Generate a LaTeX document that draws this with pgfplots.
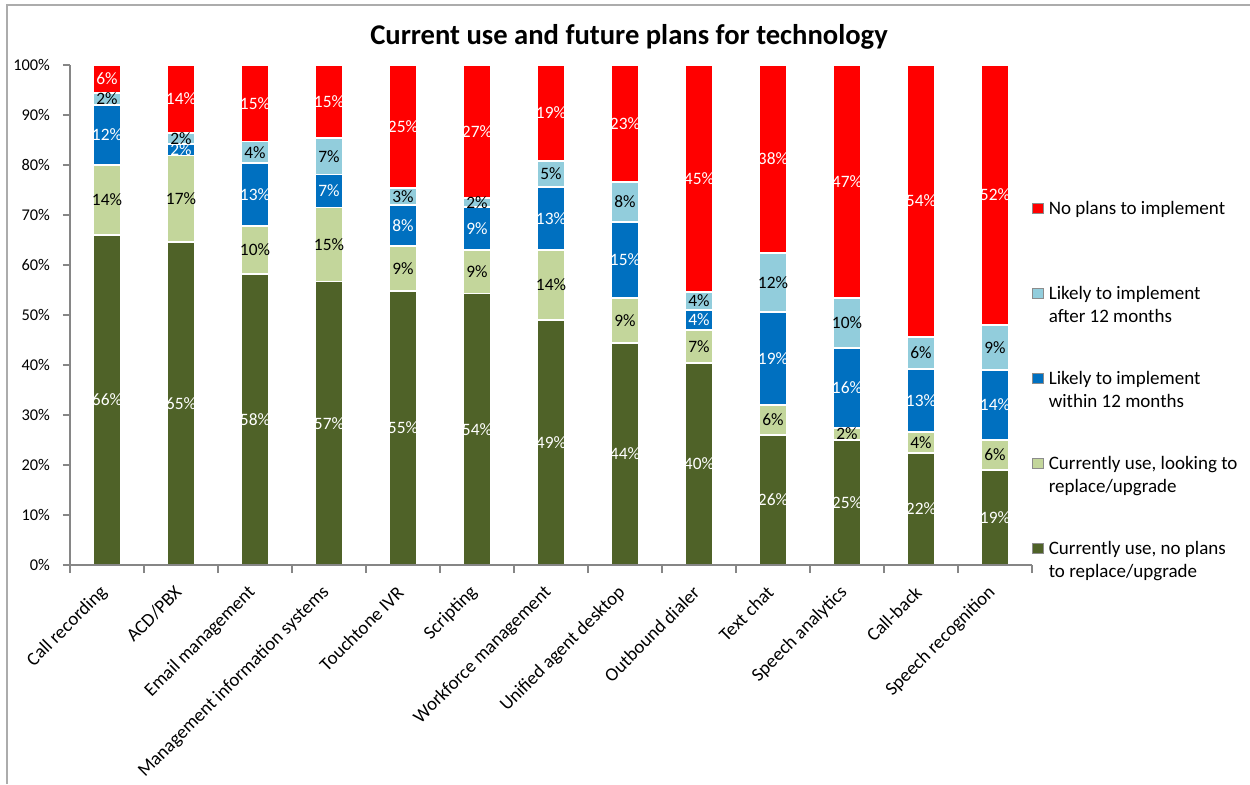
\documentclass[border=0pt]{standalone}
\usepackage{pgfplots}
\usepackage{pgfplotstable}
\usepackage{fontspec}
\setmainfont{Carlito}
\pgfplotsset{compat=1.18}
\definecolor{cA}{HTML}{4F6228}
\definecolor{cB}{HTML}{C3D69B}
\definecolor{cC}{HTML}{0070C0}
\definecolor{cD}{HTML}{92CDDC}
\definecolor{cE}{HTML}{FF0000}
\definecolor{axgray}{HTML}{868686}

% shares (percent) of each answer, per technology
\pgfplotstableread{
x  a    b    c    d    e
0  66.0 14.0 12.0 2.4  5.6
1  64.6 17.3 2.3  2.2  13.6
2  58.2 9.6  12.6 4.3  15.3
3  56.7 14.8 6.6  7.3  14.6
4  54.8 9.0  8.2  3.4  24.6
5  54.3 8.7  8.6  1.8  26.6
6  49.0 14.0 12.6 5.2  19.2
7  44.4 9.0  15.2 8.0  23.4
8  40.4 6.6  4.0  3.6  45.4
9  26.0 6.0  18.6 11.8 37.6
10 25.0 2.4  16.0 10.0 46.6
11 22.4 4.2  12.6 6.4  54.4
12 19.0 6.0  14.0 9.0  52.0
}\data

\pgfplotsset{
  common/.style={
    at={(35pt,109.5pt)}, anchor=south west,
    scale only axis, width=481pt, height=250pt,
    xmin=-0.5, xmax=12.5, ymin=0, ymax=100,
    /pgf/number format/assume math mode=true,
  },
  seg/.style={fill=#1, draw=white, line width=0.6pt},
  lab/.style={draw=none, mark=none,
    nodes near coords={\pgfmathprintnumber[fixed,precision=0,assume math mode=true]{\pgfplotspointmeta}\%},
    point meta=explicit,
    every node near coord/.append style={text=#1, anchor=center,
      font=\fontsize{8.7}{9}\selectfont, inner sep=0pt}},
}

\begin{document}
\begin{tikzpicture}
\useasboundingbox (0,0) rectangle (625pt,392pt);
\draw[gray!65, line width=1.2pt] (3.5pt,0) -- (3.5pt,389.5pt) -- (625pt,389.5pt);
\node[font=\bfseries\fontsize{14.3}{16}\selectfont] at (314.5pt,373.5pt) {Current use and future plans for technology};
\begin{axis}[
  common,
  axis on top,
  ybar stacked, bar width=14pt,
  axis x line*=bottom, axis y line*=left,
  axis line style={draw=axgray, line width=0.6pt},
  tick style={draw=axgray, line width=0.6pt},
  tick align=outside,
  major tick length=3.5pt,
  minor tick length=4pt,
  every major x tick/.append style={draw=none},
  ytick={0,10,...,100},
  yticklabel={\pgfmathprintnumber{\tick}\%},
  y tick label style={font=\fontsize{8.2}{9}\selectfont, xshift=-3pt},
  xtick={0,...,12},
  minor xtick={-0.5,0.5,...,12.5},
  xticklabels={Call recording, ACD/PBX, Email management, Management information systems, Touchtone IVR, Scripting, Workforce management, Unified agent desktop, Outbound dialer, Text chat, Speech analytics, Call-back, Speech recognition},
  x tick label style={xshift=-0.5pt, yshift=-8pt, rotate=45, anchor=east, font=\fontsize{9.4}{10}\selectfont, inner sep=1pt},
  legend style={at={(1.0,0.73)}, anchor=north west, draw=none, fill=none,
    inner sep=0pt, outer sep=0pt, row sep=0pt, column sep=2.5pt,
    font=\fontsize{9.5}{11.5}\selectfont,
    cells={anchor=base west},
    nodes={inner sep=0pt, text height=7pt, text depth=35.5pt}},
  reverse legend,
  legend image code/.code={\draw[#1, draw=black!45, line width=0.4pt] (0pt,0.5pt) rectangle (5.5pt,5.5pt);},
]
\addplot[seg=cA] table[x=x, y=a] {\data};
\addlegendentry{\parbox[t]{110pt}{Currently use, no plans\\to replace/upgrade}}
\addplot[seg=cB] table[x=x, y=b] {\data};
\addlegendentry{\parbox[t]{110pt}{Currently use, looking to\\replace/upgrade}}
\addplot[seg=cC] table[x=x, y=c] {\data};
\addlegendentry{\parbox[t]{110pt}{Likely to implement\\within 12 months}}
\addplot[seg=cD] table[x=x, y=d] {\data};
\addlegendentry{\parbox[t]{110pt}{Likely to implement\\after 12 months}}
\addplot[seg=cE] table[x=x, y=e] {\data};
\addlegendentry{No plans to implement}
\end{axis}
% value labels, centred in each segment
\begin{axis}[common, hide axis, clip=false]
\addplot[lab=white] table[x=x, y expr={0.5*\thisrow{a}}, meta=a] {\data};
\addplot[lab=black] table[x=x, y expr={\thisrow{a}+0.5*\thisrow{b}}, meta=b] {\data};
\addplot[lab=white] table[x=x, y expr={\thisrow{a}+\thisrow{b}+0.5*\thisrow{c}}, meta=c] {\data};
\addplot[lab=black] table[x=x, y expr={\thisrow{a}+\thisrow{b}+\thisrow{c}+0.5*\thisrow{d}}, meta=d] {\data};
\addplot[lab=white] table[x=x, y expr={\thisrow{a}+\thisrow{b}+\thisrow{c}+\thisrow{d}+0.5*\thisrow{e}}, meta=e] {\data};
\end{axis}
\end{tikzpicture}
\end{document}
